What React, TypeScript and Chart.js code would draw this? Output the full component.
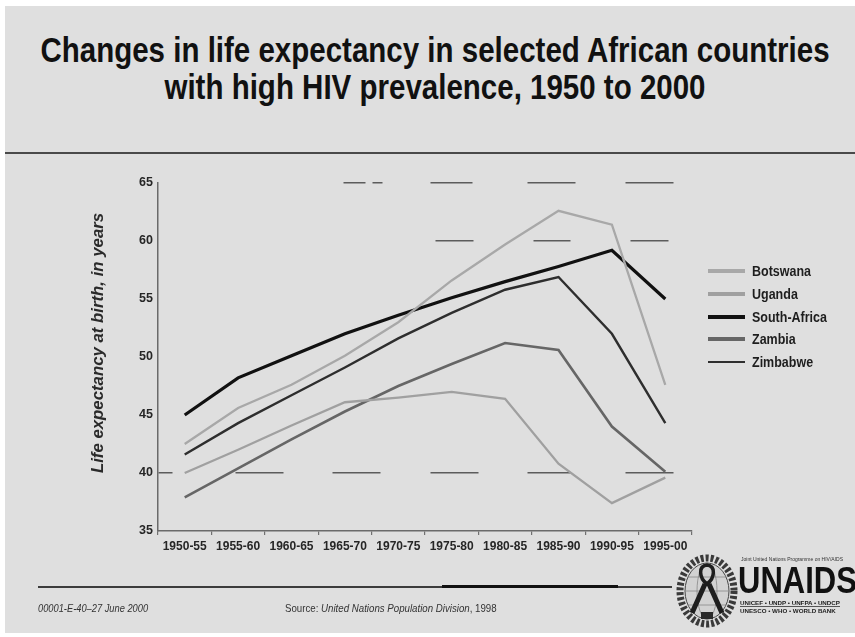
import React, { useEffect, useRef } from 'react';
import { Chart, registerables } from 'chart.js';

Chart.register(...registerables);

// Five-year periods on the horizontal axis
const periods = ['1950-55', '1955-60', '1960-65', '1965-70', '1970-75', '1975-80', '1980-85', '1985-90', '1990-95', '1995-00'];

// Life expectancy at birth, in years
const botswana = [42.5, 45.6, 47.6, 50.1, 53.0, 56.6, 59.7, 62.6, 61.4, 47.6];
const uganda = [40.0, 42.0, 44.1, 46.1, 46.5, 47.0, 46.4, 40.8, 37.4, 39.6];
const southAfrica = [45.0, 48.2, 50.1, 52.0, 53.6, 55.1, 56.5, 57.8, 59.2, 55.0];
const zambia = [37.9, 40.4, 42.9, 45.3, 47.5, 49.4, 51.2, 50.6, 44.0, 40.1];
const zimbabwe = [41.6, 44.3, 46.7, 49.1, 51.6, 53.8, 55.8, 56.9, 52.0, 44.3];

const yTickValues = [35, 40, 45, 50, 55, 60, 65];

const countryNames = ['Botswana', 'Uganda', 'South-Africa', 'Zambia', 'Zimbabwe'];
const countrySeries = [botswana, uganda, southAfrica, zambia, zimbabwe];

// styling
const lineColors = ['#a8a8a8', '#a0a0a0', '#111111', '#666666', '#2e2e2e'];
const lineWidths = [2.3, 2.3, 3.2, 2.6, 2.4];
const legendWidths = [3.6, 3.6, 4, 3.6, 2.4];

// broken guide lines across the plot (dash runs measured from the left axis)
const guideDashes: Record<number, number[]> = {
  40: [14, 63, 48, 49, 48, 50, 48, 49, 43, 55, 48, 100],
  60: [0, 277, 38, 60, 37, 60, 38, 100],
  65: [0, 185, 22, 7, 10, 48, 42, 55, 48, 50, 48, 100],
};

const SANS = '"Liberation Sans", Arial, sans-serif';

function LifeExpectancyChart() {
  const canvasRef = useRef<HTMLCanvasElement>(null);

  useEffect(() => {
    const canvas = canvasRef.current;
    if (!canvas) return;
    const chart = new Chart(canvas, {
      type: 'line',
      data: {
        labels: periods,
        datasets: countryNames.map((name, i) => ({
          label: name,
          data: countrySeries[i],
          borderColor: lineColors[i],
          backgroundColor: lineColors[i],
          borderWidth: lineWidths[i],
          pointRadius: 0,
          pointHoverRadius: 0,
          tension: 0,
          fill: false,
        })),
      },
      options: {
        responsive: false,
        animation: false,
        events: [],
        layout: { padding: { left: 78, top: 183, right: 163, bottom: 76 } },
        plugins: {
          legend: { display: false },
          tooltip: { enabled: false },
          title: { display: false },
        },
        scales: {
          x: {
            type: 'category',
            offset: true,
            grid: {
              display: true,
              drawOnChartArea: false,
              drawTicks: true,
              tickLength: 4,
              offset: true,
              color: '#707070',
              lineWidth: 1.2,
            },
            border: { display: true, color: '#6a6a6a', width: 1.5 },
            ticks: {
              autoSkip: false,
              maxRotation: 0,
              minRotation: 0,
              padding: 4,
              color: '#262626',
              font: { family: SANS, size: 12, weight: 'bold' },
            },
            afterFit: (s: any) => {
              s.height = 30;
            },
          },
          y: {
            type: 'linear',
            min: 35,
            max: 65,
            afterBuildTicks: (s: any) => {
              s.ticks = yTickValues.map((v) => ({ value: v }));
            },
            grid: {
              drawTicks: false,
              color: (c: any) => (c.tick && guideDashes[c.tick.value] ? '#5c5c5c' : 'rgba(0,0,0,0)'),
              lineWidth: 1.5,
            },
            border: {
              display: true,
              color: '#6a6a6a',
              width: 1.5,
              dash: (c: any) => (c.tick && guideDashes[c.tick.value]) || [],
            },
            ticks: {
              padding: 5,
              color: '#262626',
              font: { family: SANS, size: 12.5, weight: 'bold' },
            },
            title: {
              display: true,
              // leading spaces lift the caption slightly above the axis centre
              text: '      Life expectancy at birth, in years',
              color: '#2a2a2a',
              font: { family: SANS, size: 16.8, style: 'italic', weight: 'bold' },
              padding: { top: 10, bottom: 0 },
            },
            afterFit: (s: any) => {
              s.width = 80;
            },
          },
        },
      },
    });
    return () => chart.destroy();
  }, []);

  return <canvas ref={canvasRef} width={855} height={637} style={{ position: 'absolute', left: 0, top: 0 }} />;
}

function Legend() {
  return (
    <>
      {countryNames.map((name, i) => (
        <div
          key={name}
          style={{
            position: 'absolute',
            left: 708,
            top: 261 + i * 22.75,
            height: 20,
            display: 'flex',
            alignItems: 'center',
          }}
        >
          <div style={{ width: 37, height: legendWidths[i], background: lineColors[i] }} />
          <div
            style={{
              marginLeft: 7,
              fontFamily: SANS,
              fontWeight: 'bold',
              fontSize: 12.5,
              color: '#1e1e1e',
              transform: 'scaleY(1.18)',
              whiteSpace: 'nowrap',
            }}
          >
            {name}
          </div>
        </div>
      ))}
    </>
  );
}

function Emblem() {
  return (
    <svg style={{ position: 'absolute', left: 675, top: 553 }} width={64} height={76} viewBox="0 0 64 76">
      <ellipse cx={32} cy={38} rx={27} ry={33} fill="none" stroke="#3a3a3a" strokeWidth={7} strokeDasharray="3 2" />
      <ellipse cx={32} cy={38} rx={22} ry={28} fill="#d2d2d2" stroke="#444" strokeWidth={1} />
      <ellipse cx={32} cy={38} rx={10} ry={28} fill="none" stroke="#888" strokeWidth={0.8} />
      <line x1={10} y1={38} x2={54} y2={38} stroke="#888" strokeWidth={0.8} />
      <line x1={13} y1={24} x2={51} y2={24} stroke="#888" strokeWidth={0.8} />
      <line x1={13} y1={52} x2={51} y2={52} stroke="#888" strokeWidth={0.8} />
      <path d="M32 12 C 23 13, 24 25, 32 31 C 40 25, 41 13, 32 12 Z" fill="none" stroke="#1e1e1e" strokeWidth={3.5} />
      <path d="M30 31 L 17 60 M 34 31 L 47 60" stroke="#1e1e1e" strokeWidth={5} fill="none" />
      <rect x={26} y={59} width={12} height={7} fill="#2a2a2a" />
    </svg>
  );
}

export default function App() {
  const smallText: React.CSSProperties = {
    position: 'absolute',
    top: 602,
    height: 12,
    lineHeight: '12px',
    fontFamily: SANS,
    color: '#333',
    whiteSpace: 'nowrap',
    transform: 'scaleY(1.18)',
    transformOrigin: 'center',
  };
  return (
    <div
      style={{
        position: 'absolute',
        left: 0,
        top: 0,
        width: 855,
        height: 637,
        background: '#ffffff',
        overflow: 'hidden',
      }}
    >
      <div style={{ position: 'absolute', left: 5, top: 6, right: 0, bottom: 4, background: '#dfdfdf' }} />

      <div
        style={{
          position: 'absolute',
          left: 0,
          top: 31,
          width: 870,
          textAlign: 'center',
          fontFamily: SANS,
          fontWeight: 'bold',
          fontSize: 29.5,
          lineHeight: '32.2px',
          color: '#111',
          transform: 'scaleY(1.18)',
          transformOrigin: 'top center',
          whiteSpace: 'nowrap',
        }}
      >
        <div>Changes in life expectancy in selected African countries</div>
        <div>with high HIV prevalence, 1950 to 2000</div>
      </div>
      <div style={{ position: 'absolute', left: 5, right: 0, top: 152, height: 2, background: '#4a4a4a' }} />

      <LifeExpectancyChart />
      <Legend />

      <div style={{ position: 'absolute', left: 38, width: 634, top: 586, height: 1.5, background: '#3c3c3c' }} />
      <div style={{ position: 'absolute', left: 442, width: 176, top: 585, height: 3, background: '#111' }} />

      <div style={{ ...smallText, left: 38, fontSize: 9.3, fontStyle: 'italic' }}>00001-E-40–27 June 2000</div>
      <div style={{ ...smallText, left: 285, fontSize: 9.7 }}>
        Source: <span style={{ fontStyle: 'italic' }}>United Nations Population Division</span>, 1998
      </div>

      <Emblem />
      <div
        style={{
          position: 'absolute',
          left: 741,
          top: 556,
          fontFamily: SANS,
          fontSize: 5,
          color: '#333',
          whiteSpace: 'nowrap',
        }}
      >
        Joint United Nations Programme on HIV/AIDS
      </div>
      <div
        style={{
          position: 'absolute',
          left: 738,
          top: 562,
          fontFamily: SANS,
          fontWeight: 'bold',
          fontSize: 31,
          lineHeight: 1,
          color: '#111',
          transform: 'scaleY(1.18)',
          transformOrigin: 'top left',
          whiteSpace: 'nowrap',
        }}
      >
        UNAIDS
      </div>
      <div
        style={{
          position: 'absolute',
          left: 740,
          top: 599,
          fontFamily: SANS,
          fontWeight: 'bold',
          fontSize: 6.2,
          lineHeight: '7px',
          color: '#222',
          whiteSpace: 'nowrap',
        }}
      >
        <div style={{ borderBottom: '1px solid #555' }}>UNICEF • UNDP • UNFPA • UNDCP</div>
        <div>UNESCO • WHO • WORLD BANK</div>
      </div>
    </div>
  );
}
